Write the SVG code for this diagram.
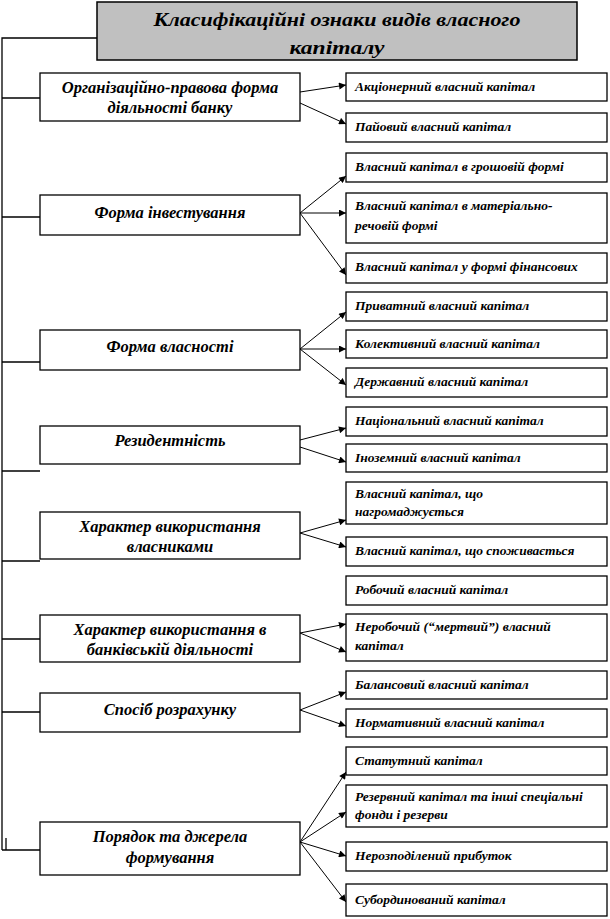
<svg xmlns="http://www.w3.org/2000/svg" width="610" height="919" viewBox="0 0 610 919">
<defs>
<marker id="ah" viewBox="0 0 10 10" refX="10" refY="5" markerWidth="9" markerHeight="7" markerUnits="userSpaceOnUse" orient="auto">
<path d="M0,0 L10,5 L0,10 z" fill="#000"/>
</marker>
<style>
.bg{fill:#fff}
.box{fill:#fff;stroke:#000;stroke-width:1.3}
.title{fill:#c0c0c0;stroke:#000;stroke-width:1.5}
.tt{font-family:"Liberation Serif",serif;font-weight:bold;font-style:italic;font-size:18px;fill:#000;text-anchor:middle}
.lt{font-family:"Liberation Serif",serif;font-weight:bold;font-style:italic;font-size:16.5px;fill:#000;text-anchor:middle}
.rt{font-family:"Liberation Serif",serif;font-weight:bold;font-style:italic;font-size:13.5px;fill:#000}
.bus{fill:none;stroke:#000;stroke-width:1.3}
.arr{fill:none;stroke:#000;stroke-width:1;marker-end:url(#ah)}
</style>
</defs>
<rect class="bg" x="0" y="0" width="610" height="919"/>

<g id="connectors">
<path class="bus" d="M97,38 H2 V850"/>
<path class="bus" d="M6,838 V850"/>
<path class="bus" d="M2,98 H40"/>
<path class="bus" d="M2,217 H40"/>
<path class="bus" d="M2,362 H40"/>
<path class="bus" d="M2,471 H40"/>
<path class="bus" d="M2,561 H40"/>
<path class="bus" d="M2,639 H40"/>
<path class="bus" d="M2,712 H40"/>
<path class="bus" d="M2,850 H40"/>

<line class="arr" x1="300" y1="92" x2="346" y2="85"/>
<line class="arr" x1="300" y1="103" x2="346" y2="124"/>

<line class="arr" x1="300" y1="213" x2="346" y2="176"/>
<line class="arr" x1="300" y1="213" x2="346" y2="213"/>
<line class="arr" x1="300" y1="213" x2="346" y2="275"/>

<line class="arr" x1="300" y1="349" x2="346" y2="312"/>
<line class="arr" x1="300" y1="349" x2="346" y2="349"/>
<line class="arr" x1="300" y1="349" x2="346" y2="385"/>

<line class="arr" x1="300" y1="440" x2="346" y2="428"/>
<line class="arr" x1="300" y1="447" x2="346" y2="462"/>

<line class="arr" x1="300" y1="533" x2="346" y2="520"/>
<line class="arr" x1="300" y1="533" x2="346" y2="547"/>

<line class="arr" x1="300" y1="633" x2="346" y2="624"/>
<line class="arr" x1="300" y1="633" x2="346" y2="652"/>

<line class="arr" x1="300" y1="710" x2="346" y2="692"/>
<line class="arr" x1="300" y1="710" x2="346" y2="726"/>

<line class="arr" x1="300" y1="842" x2="346" y2="772"/>
<line class="arr" x1="300" y1="842" x2="346" y2="812"/>
<line class="arr" x1="300" y1="842" x2="346" y2="856"/>
<line class="arr" x1="300" y1="842" x2="346" y2="902"/>
</g>

<g id="title">
<rect class="title" x="97" y="2" width="480" height="58"/>
<text class="tt" x="337" y="26" textLength="367" lengthAdjust="spacingAndGlyphs">Класифікаційні ознаки видів власного</text>
<text class="tt" x="337" y="54" textLength="95" lengthAdjust="spacingAndGlyphs">капіталу</text>
</g>

<g id="l1"><rect class="box" x="40" y="73" width="260" height="48"/>
<text class="lt" x="170" y="93">Організаційно-правова форма</text>
<text class="lt" x="170" y="113">діяльності банку</text></g>
<g id="l2"><rect class="box" x="40" y="195" width="260" height="40"/>
<text class="lt" x="170" y="218">Форма інвестування</text></g>
<g id="l3"><rect class="box" x="40" y="330" width="260" height="40"/>
<text class="lt" x="170" y="352">Форма власності</text></g>
<g id="l4"><rect class="box" x="40" y="426" width="260" height="38"/>
<text class="lt" x="170" y="446">Резидентність</text></g>
<g id="l5"><rect class="box" x="40" y="512" width="260" height="47"/>
<text class="lt" x="170" y="532">Характер використання</text>
<text class="lt" x="170" y="552">власниками</text></g>
<g id="l6"><rect class="box" x="40" y="615" width="260" height="47"/>
<text class="lt" x="170" y="635">Характер використання в</text>
<text class="lt" x="170" y="655">банківській діяльності</text></g>
<g id="l7"><rect class="box" x="40" y="693" width="260" height="39"/>
<text class="lt" x="170" y="715">Спосіб розрахунку</text></g>
<g id="l8"><rect class="box" x="40" y="822" width="260" height="53"/>
<text class="lt" x="170" y="842">Порядок та джерела</text>
<text class="lt" x="170" y="863">формування</text></g>

<g id="r1"><rect class="box" x="346" y="73" width="261" height="28"/>
<text class="rt" x="355" y="91">Акціонерний власний капітал</text></g>
<g id="r2"><rect class="box" x="346" y="113" width="261" height="29"/>
<text class="rt" x="355" y="131">Пайовий власний капітал</text></g>
<g id="r3"><rect class="box" x="346" y="153" width="261" height="29"/>
<text class="rt" x="355" y="171">Власний капітал в грошовій формі</text></g>
<g id="r4"><rect class="box" x="346" y="193" width="261" height="50"/>
<text class="rt" x="355" y="210">Власний капітал в матеріально-</text>
<text class="rt" x="355" y="230">речовій формі</text></g>
<g id="r5"><rect class="box" x="346" y="253" width="261" height="30"/>
<text class="rt" x="355" y="271">Власний капітал у формі фінансових</text></g>
<g id="r6"><rect class="box" x="346" y="292" width="261" height="29"/>
<text class="rt" x="355" y="310">Приватний власний капітал</text></g>
<g id="r7"><rect class="box" x="346" y="330" width="261" height="28"/>
<text class="rt" x="355" y="348">Колективний власний капітал</text></g>
<g id="r8"><rect class="box" x="346" y="368" width="261" height="29"/>
<text class="rt" x="355" y="386">Державний власний капітал</text></g>
<g id="r9"><rect class="box" x="346" y="407" width="261" height="29"/>
<text class="rt" x="355" y="425">Національний власний капітал</text></g>
<g id="r10"><rect class="box" x="346" y="444" width="261" height="28"/>
<text class="rt" x="355" y="462">Іноземний власний капітал</text></g>
<g id="r11"><rect class="box" x="346" y="482" width="261" height="42"/>
<text class="rt" x="355" y="498">Власний капітал, що</text>
<text class="rt" x="355" y="516">нагромаджується</text></g>
<g id="r12"><rect class="box" x="346" y="537" width="261" height="29"/>
<text class="rt" x="355" y="555">Власний капітал, що споживається</text></g>
<g id="r13"><rect class="box" x="346" y="576" width="261" height="29"/>
<text class="rt" x="355" y="594">Робочий власний капітал</text></g>
<g id="r14"><rect class="box" x="346" y="614" width="261" height="47"/>
<text class="rt" x="355" y="631">Неробочий (“мертвий”) власний</text>
<text class="rt" x="355" y="650">капітал</text></g>
<g id="r15"><rect class="box" x="346" y="671" width="261" height="28"/>
<text class="rt" x="355" y="689">Балансовий власний капітал</text></g>
<g id="r16"><rect class="box" x="346" y="709" width="261" height="28"/>
<text class="rt" x="355" y="727">Нормативний власний капітал</text></g>
<g id="r17"><rect class="box" x="346" y="747" width="261" height="28"/>
<text class="rt" x="355" y="765">Статутний капітал</text></g>
<g id="r18"><rect class="box" x="346" y="785" width="261" height="42"/>
<text class="rt" x="355" y="801">Резервний капітал та інші спеціальні</text>
<text class="rt" x="355" y="819">фонди і резерви</text></g>
<g id="r19"><rect class="box" x="346" y="842" width="261" height="29"/>
<text class="rt" x="355" y="860">Нерозподілений прибуток</text></g>
<g id="r20"><rect class="box" x="346" y="884" width="261" height="32"/>
<text class="rt" x="355" y="904">Субординований капітал</text></g>
</svg>
